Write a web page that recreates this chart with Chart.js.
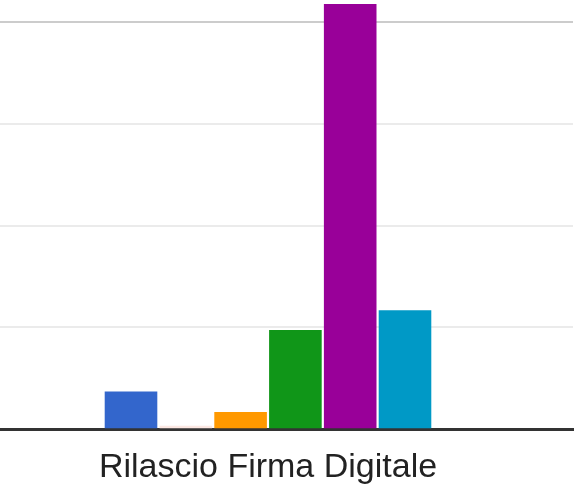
<!DOCTYPE html>
<html>
<head>
<meta charset="utf-8">
<script src="https://cdn.jsdelivr.net/npm/chart.js@4"></script>
<style>
  html, body { margin: 0; padding: 0; background: #fff; overflow: hidden; }
  #wrap { position: absolute; left: -40px; top: 0; width: 614px; height: 506px; }
</style>
</head>
<body>
<div id="wrap"><canvas id="barChart" width="614" height="506"></canvas></div>
<script>
const categories = ['Rilascio Firma Digitale'];
const seriesNames = ['Serie 1', 'Serie 2', 'Serie 3', 'Serie 4', 'Serie 5', 'Serie 6'];
const seriesValues = [7.4, 0.7, 3.4, 19.5, 83.6, 23.4];
const seriesColors = ['#3366cc', '#fce8e3', '#ff9900', '#109618', '#990099', '#0099c6'];
const gridTicks = [0, 20, 40, 60, 80];

document.addEventListener("DOMContentLoaded", function () {
    const ctx = document.getElementById('barChart').getContext('2d');
    new Chart(ctx, {
        type: 'bar',
        data: {
            labels: categories,
            datasets: seriesNames.map((name, i) => ({
                label: name,
                data: [seriesValues[i]],
                backgroundColor: seriesColors[i],
                borderWidth: 0,
                categoryPercentage: 0.539,
                barPercentage: 0.96
            }))
        },
        options: {
            responsive: false,
            animation: false,
            layout: { padding: { left: 3, right: 1, top: 0, bottom: 0 } },
            plugins: { legend: { display: false }, tooltip: { enabled: false } },
            scales: {
                x: {
                    grid: { display: false, drawTicks: false },
                    border: { display: true, color: '#333333', width: 3 },
                    ticks: {
                        color: '#222222',
                        padding: 18,
                        font: { family: 'Liberation Sans, Arial, sans-serif', size: 34 }
                    }
                },
                y: {
                    min: 0,
                    max: 84.4,
                    afterBuildTicks: function (scale) {
                        scale.ticks = gridTicks.map(v => ({ value: v }));
                    },
                    ticks: { display: false },
                    border: { display: false },
                    grid: {
                        drawTicks: false,
                        lineWidth: 2,
                        color: function (c) {
                            if (c.tick.value === 0) return 'rgba(0,0,0,0)';
                            if (c.tick.value === 80) return '#cccccc';
                            return '#ebebeb';
                        }
                    }
                }
            }
        }
    });
});
</script>
</body>
</html>
